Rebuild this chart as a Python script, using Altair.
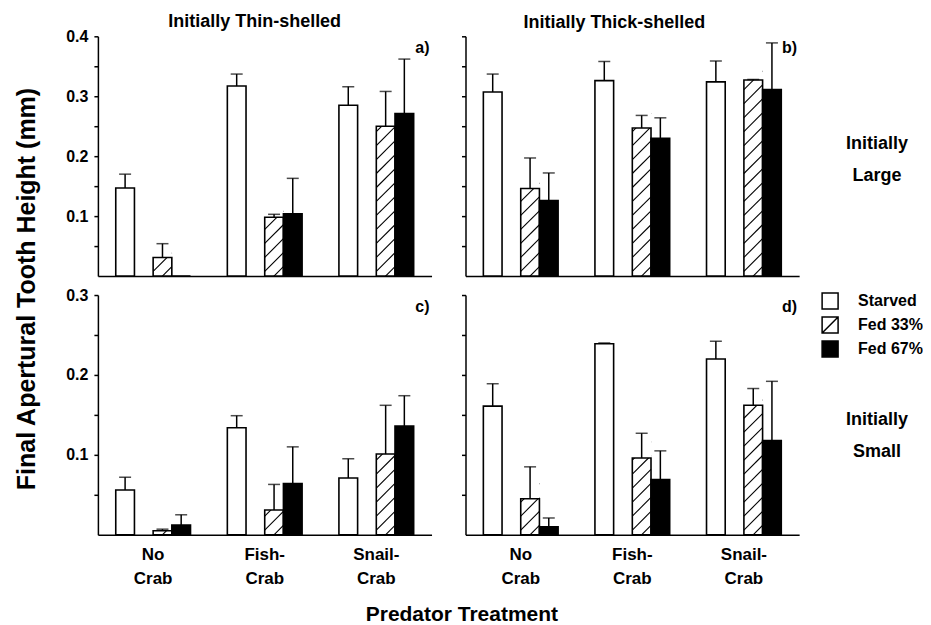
import altair as alt
import pandas as pd

# ---------------- data ----------------
groups = ["No Crab", "Fish-Crab", "Snail-Crab"]
treatments = ["Starved", "Fed 33%", "Fed 67%"]
slots = ["Starved", "gap", "Fed 33%", "Fed 67%"]

# a) initially thin-shelled, initially large
a_starved = [0.147, 0.317, 0.285]
a_starved_se = [0.023, 0.020, 0.031]
a_fed33 = [0.031, 0.098, 0.250]
a_fed33_se = [0.023, 0.005, 0.058]
a_fed67 = [0.0, 0.104, 0.271]
a_fed67_se = [0.0, 0.059, 0.091]

# b) initially thick-shelled, initially large
b_starved = [0.307, 0.326, 0.324]
b_starved_se = [0.030, 0.032, 0.035]
b_fed33 = [0.146, 0.247, 0.327]
b_fed33_se = [0.051, 0.021, 0.001]
b_fed67 = [0.126, 0.230, 0.311]
b_fed67_se = [0.046, 0.034, 0.078]

# c) initially thin-shelled, initially small
c_starved = [0.056, 0.134, 0.071]
c_starved_se = [0.016, 0.015, 0.024]
c_fed33 = [0.005, 0.031, 0.101]
c_fed33_se = [0.002, 0.032, 0.061]
c_fed67 = [0.012, 0.064, 0.136]
c_fed67_se = [0.013, 0.046, 0.038]

# d) initially thick-shelled, initially small
d_starved = [0.161, 0.239, 0.220]
d_starved_se = [0.028, 0.001, 0.022]
d_fed33 = [0.045, 0.096, 0.162]
d_fed33_se = [0.040, 0.031, 0.021]
d_fed67 = [0.010, 0.069, 0.118]
d_fed67_se = [0.011, 0.036, 0.074]

top_ticks = [0.05, 0.1, 0.15, 0.2, 0.25, 0.3, 0.35, 0.4]
bottom_ticks = [0.05, 0.1, 0.15, 0.2, 0.25, 0.3]

# ---------------- styling ----------------
F = "Liberation Sans, Arial, Helvetica, sans-serif"
W, H = 334, 240
SLOT_PX = 18.7
HATCH_STEP_PX = 14
LX, LY = 724, 256
HATCH_BOX = "M-1,-1L1,-1L1,1L-1,1Z M-1,1L1,-1"

legend = alt.Legend(
    title=None, orient="none", legendX=LX, legendY=LY,
    symbolSize=256, symbolStrokeColor="black",
    symbolStrokeWidth=1.5, labelFont=F, labelFontSize=16,
    labelFontWeight="bold", labelColor="black", labelOffset=19,
    rowPadding=2, padding=0,
)
fill_scale = alt.Scale(domain=treatments, range=["white", "white", "black"])
shape_scale = alt.Scale(domain=treatments, range=["square", HATCH_BOX, "square"])
stroke_scale = alt.Scale(domain=treatments, range=["black", "black", "black"])


def build_df(s, s_se, f33, f33_se, f67, f67_se):
    rows = []
    for t, m, e in [("Starved", s, s_se), ("Fed 33%", f33, f33_se), ("Fed 67%", f67, f67_se)]:
        for g, mv, ev in zip(groups, m, e):
            rows.append({"group": g, "treatment": t, "mean": mv, "se": ev,
                         "upper": mv + ev, "mid": mv / 2})
    return pd.DataFrame(rows)


def panel(df, ymax, ticks, left, bottom, letter, title=None, title_offset=0, title_dx=0,
          row_label=None, row_y=None):
    pxu = H / ymax
    step = HATCH_STEP_PX / pxu
    half = (SLOT_PX / 2) / pxu
    hrows = []
    f33 = df[df.treatment == "Fed 33%"]
    for _, r in f33.iterrows():
        k = 0
        while k * step <= r["mean"] + half:
            hrows.append({"group": r["group"], "treatment": r["treatment"], "y": k * step})
            k += 1
    hdf = pd.DataFrame(hrows)
    mdf = f33.copy()
    mdf["mask_top"] = mdf["mean"] + (SLOT_PX + 2) / pxu

    xaxis = alt.Axis(
        labels=bottom, ticks=False, domain=True, title=None, labelAngle=0,
        labelPadding=12, labelLineHeight=24, labelFontSize=17,
        labelExpr="datum.label == 'No Crab' ? ['No', 'Crab'] : "
                  "[split(datum.label, '-')[0] + '-', split(datum.label, '-')[1]]",
    )
    x = alt.X("group:N", scale=alt.Scale(domain=groups, paddingInner=0.33, paddingOuter=0.16),
              axis=xaxis, title=None)
    xo = alt.XOffset("treatment:N", scale=alt.Scale(domain=slots, paddingInner=0, paddingOuter=0))
    yaxis = alt.Axis(values=ticks, labels=left, title=None, tickSize=4, labelPadding=6,
                     labelExpr="round(datum.value * 100) % 10 == 0 ? format(datum.value, '.1f') : ''")
    yscale = alt.Scale(domain=[0, ymax], nice=False, zero=True)

    def Y(field):
        return alt.Y(field + ":Q", scale=yscale, axis=yaxis, title=None)

    # legend carrier: small points hidden inside the bars
    keypts = alt.Chart(df[df["mean"] > 0.02]).mark_point(
        filled=True, size=4, strokeWidth=1.5, opacity=1).encode(
        x=x, xOffset=xo, y=Y("mid"),
        fill=alt.Fill("treatment:N", scale=fill_scale, legend=legend),
        shape=alt.Shape("treatment:N", scale=shape_scale, legend=legend),
        stroke=alt.Stroke("treatment:N", scale=stroke_scale, legend=legend),
    )
    fillbars = alt.Chart(df).mark_bar(strokeWidth=0).encode(
        x=x, xOffset=xo, y=Y("mean"),
        fill=alt.Fill("treatment:N", scale=fill_scale, legend=None),
    )
    hatch = alt.Chart(hdf).mark_point(
        shape="M-1,1L1,-1", size=SLOT_PX ** 2, filled=False, color="black",
        strokeWidth=1.1, opacity=1, clip=True,
    ).encode(x=x, xOffset=xo, y=Y("y"))
    mask = alt.Chart(mdf).mark_bar(color="white", clip=True).encode(
        x=x, xOffset=xo, y=Y("mean"), y2="mask_top:Q")
    outline = alt.Chart(df).mark_bar(fillOpacity=0, stroke="black", strokeWidth=1.6).encode(
        x=x, xOffset=xo, y=Y("mean"))
    edf = df[df.se > 0]
    err = alt.Chart(edf).mark_rule(color="black", strokeWidth=1.5).encode(
        x=x, xOffset=xo, y=Y("mean"), y2="upper:Q")
    cap = alt.Chart(edf).mark_tick(color="black", orient="horizontal", size=12, thickness=1.5).encode(
        x=x, xOffset=xo, y=Y("upper"))
    lab = alt.Chart(pd.DataFrame({"t": [letter]})).mark_text(
        align="right", baseline="middle", font=F, fontSize=16, fontWeight="bold", color="black"
    ).encode(x=alt.value(W - 2), y=alt.value(12), text="t:N")
    layers = [keypts, fillbars, hatch, mask, outline, err, cap, lab]
    if row_label:
        rl = alt.Chart(pd.DataFrame({"t": [row_label]})).mark_text(
            align="center", baseline="middle", lineBreak="\n", lineHeight=32,
            font=F, fontSize=18, fontWeight="bold", color="black"
        ).encode(x=alt.value(412), y=alt.value(row_y), text="t:N")
        layers.append(rl)
    ch = alt.layer(*layers).properties(width=W, height=H)
    if title:
        ch = ch.properties(title=alt.TitleParams(title, fontSize=18, font=F, fontWeight="bold",
                                                 anchor="middle", offset=title_offset,
                                                 dx=title_dx, dy=6))
    return ch


pa = panel(build_df(a_starved, a_starved_se, a_fed33, a_fed33_se, a_fed67, a_fed67_se),
           0.4, top_ticks, True, False, "a)", title="Initially Thin-shelled",
           title_offset=3, title_dx=-10)
pb = panel(build_df(b_starved, b_starved_se, b_fed33, b_fed33_se, b_fed67, b_fed67_se),
           0.4, top_ticks, False, False, "b)", title="Initially Thick-shelled",
           title_offset=10, title_dx=-18, row_label="Initially\nLarge", row_y=108)
pc = panel(build_df(c_starved, c_starved_se, c_fed33, c_fed33_se, c_fed67, c_fed67_se),
           0.3, bottom_ticks, True, True, "c)")
pd_ = panel(build_df(d_starved, d_starved_se, d_fed33, d_fed33_se, d_fed67, d_fed67_se),
            0.3, bottom_ticks, False, True, "d)", row_label="Initially\nSmall", row_y=125)

row1 = alt.hconcat(pa, pb, spacing=29)
row2 = alt.hconcat(pc, pd_, spacing=29)
inner = alt.vconcat(row1, row2, spacing=10).properties(
    title=alt.TitleParams("Predator  Treatment", orient="bottom", anchor="middle", fontSize=21,
                          font=F, fontWeight="bold", offset=17, dx=-25))
chart = alt.hconcat(inner).properties(
    title=alt.TitleParams("Final  Apertural  Tooth  Height  (mm)", orient="left", anchor="middle",
                          fontSize=25, font=F, fontWeight="bold", offset=26, dx=30),
    padding={"left": 6, "top": 5, "right": 0, "bottom": 0},
).configure_view(stroke=None).configure_axis(
    domainColor="black", domainWidth=1.5, tickColor="black", tickWidth=1.5,
    labelColor="black", labelFont=F, labelFontWeight="bold", labelFontSize=16, grid=False,
).configure_title(font=F, fontWeight="bold", color="black")

chart.save("out.html", embed_options={"renderer": "svg", "actions": False})
